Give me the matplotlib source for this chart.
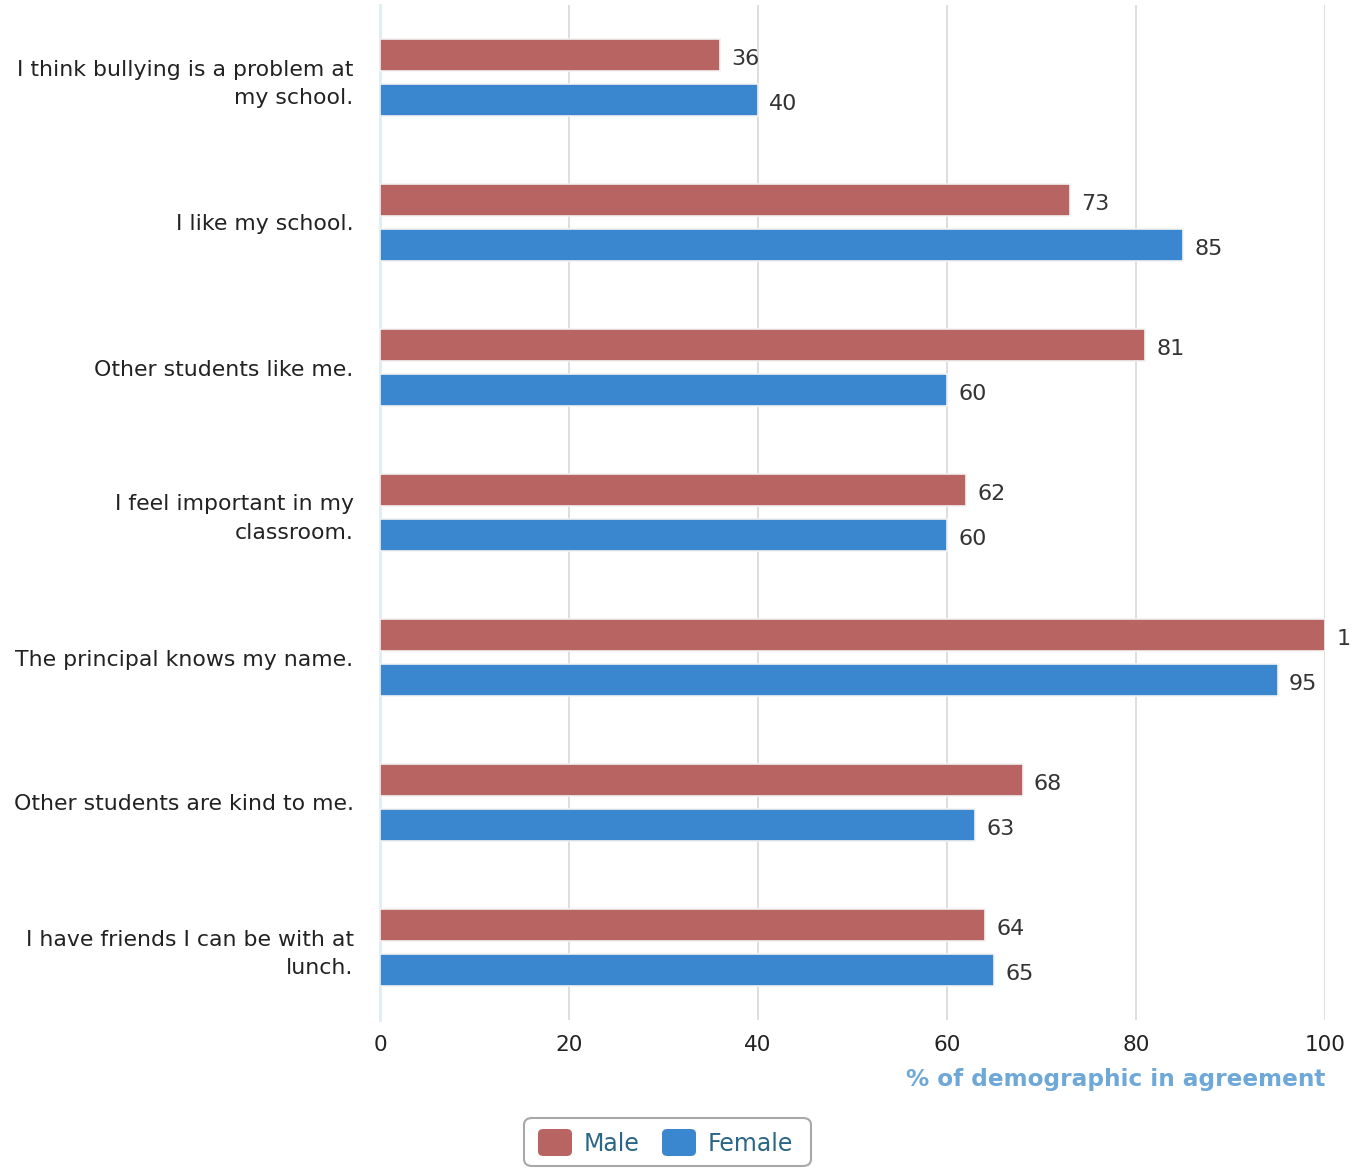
import matplotlib.pyplot as plt
import numpy as np
from matplotlib.patches import FancyBboxPatch, Rectangle

preguntas = ["I think bullying is a problem at\nmy school.",
             "I like my school.",
             "Other students like me.",
             "I feel important in my\nclassroom.",
             "The principal knows my name.",
             "Other students are kind to me.",
             "I have friends I can be with at\nlunch."]
male = [36, 73, 81, 62, 100, 68, 64]
female = [40, 85, 60, 60, 95, 63, 65]
ticks_x = [0, 20, 40, 60, 80, 100]

color_male = '#b86462'
color_female = '#3b87cf'

fig = plt.figure(figsize=(13.6, 11.69), dpi=100)
W, H = 1360, 1169
ax = fig.add_axes([380 / W, 1 - 1020 / H, (1325 - 380) / W, (1020 - 5) / H])

y = np.arange(len(preguntas))
alto = 0.225
desfase = 0.155
b1 = ax.barh(y - desfase, male, height=alto, color=color_male, edgecolor='#f2f2f2', linewidth=1.2, zorder=3)
b2 = ax.barh(y + desfase, female, height=alto, color=color_female, edgecolor='#f2f2f2', linewidth=1.2, zorder=3)

# etiquetas de valor; el 100 queda cortado en el borde como en el original
clip = Rectangle((0, 0), 1350 / W, 1, transform=fig.transFigure)
for barras, vals in ((b1, male), (b2, female)):
    for barra, v in zip(barras, vals):
        t = ax.text(v + 1.2, barra.get_y() + barra.get_height() / 2 + 0.03, str(v),
                    va='center', ha='left', fontsize=16, color='#333333', zorder=4)
        t.set_clip_path(clip)
        t.set_clip_on(True)

ax.set_ylim(len(preguntas) - 0.5, -0.5)
ax.set_xlim(0, 100)
ax.set_yticks(y)
ax.set_yticklabels(preguntas, fontsize=15.8, color='#222222', linespacing=1.55)
ax.set_xticks(ticks_x)
ax.set_xticklabels([str(t) for t in ticks_x], fontsize=15.5, color='#222222')
ax.tick_params(axis='y', length=0, pad=19)
ax.tick_params(axis='x', length=0, pad=11)
ax.grid(axis='x', color='#d8d8d8', linewidth=1.2, zorder=0)
for lado in ['top', 'right', 'bottom']:
    ax.spines[lado].set_visible(False)
ax.spines['left'].set_color('#dfeef0')
ax.spines['left'].set_linewidth(2)

ax.set_xlabel("% of demographic in agreement", fontsize=16.7, fontweight='bold', color='#6ea8d8', loc='right', labelpad=9)

# leyenda con caja redondeada
caja = FancyBboxPatch((524 / W, 1 - 1166 / H), 287 / W, 48 / H, boxstyle='round,pad=0,rounding_size=0.006',
                      transform=fig.transFigure, facecolor='white', edgecolor='#a8a8a8', linewidth=1.5)
fig.patches.append(caja)
for x0, color, nombre in ((538, color_male, "Male"), (662, color_female, "Female")):
    fig.patches.append(FancyBboxPatch((x0 / W, 1 - 1156 / H), 34 / W, 27 / H,
                                      boxstyle='round,pad=0,rounding_size=0.004', transform=fig.transFigure,
                                      facecolor=color, edgecolor='none'))
    fig.text((x0 + 46) / W, 1 - 1144 / H, nombre, fontsize=17, color='#2a6686', va='center', ha='left')

fig.savefig('out.png', dpi=100)
